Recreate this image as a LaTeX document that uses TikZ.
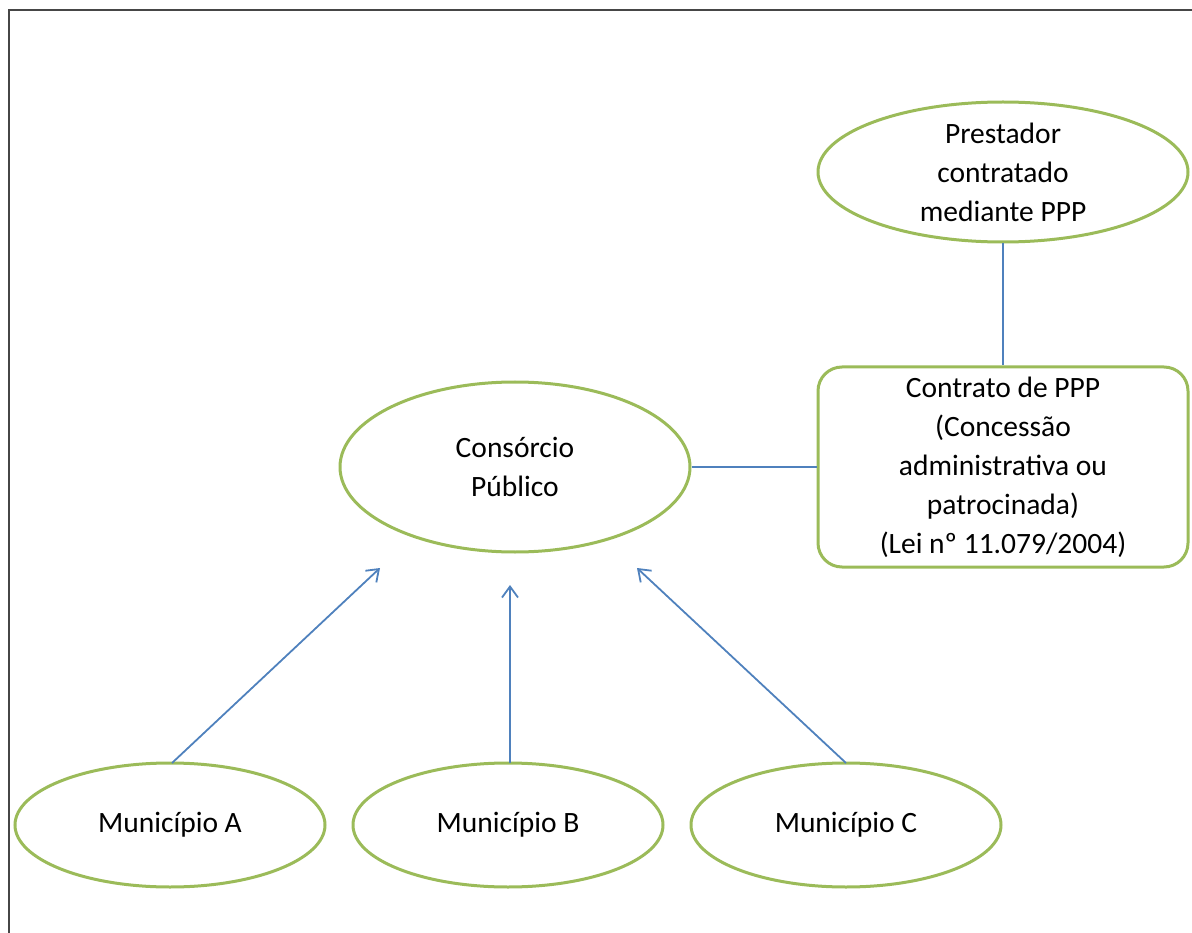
\documentclass[tikz,border=0pt]{standalone}
\usepackage{fontspec}
\setmainfont{Carlito}
\usetikzlibrary{shapes.geometric,arrows.meta}
\definecolor{grn}{RGB}{155,187,89}
\definecolor{blu}{RGB}{79,129,189}
\definecolor{frm}{RGB}{70,70,70}
\begin{document}
\begin{tikzpicture}[x=1pt,y=-1pt,
  txt/.style={align=center,font=\fontsize{29.5}{39}\selectfont,text=black,inner sep=0pt},
  ell/.style={txt,ellipse,draw=grn,line width=3pt},
  box/.style={txt,draw=grn,line width=3pt,rounded corners=24pt},
  link/.style={draw=blu,line width=1.8pt},
  arr/.style={link,-{Straight Barb[length=11pt,width=16pt,line width=1.8pt]}}]
\useasboundingbox (0,0) rectangle (1192,933);
\draw[frm,line width=2pt] (9,933) -- (9,10) -- (1192,10);
\node[ell,minimum width=370pt,minimum height=140pt] (prest) at (1003,172) {Prestador\\contratado\\mediante PPP};
\node[box,minimum width=370pt,minimum height=200pt] (contr) at (1003,467) {Contrato de PPP\\(Concessão\\administrativa ou\\patrocinada)\\(Lei nº 11.079/2004)};
\node[ell,minimum width=350pt,minimum height=170pt] (cons) at (515,467) {Consórcio\\Público};
\node[ell,minimum width=310pt,minimum height=124pt] (ma) at (170,825) {Município A};
\node[ell,minimum width=310pt,minimum height=124pt] (mb) at (508,825) {Município B};
\node[ell,minimum width=310pt,minimum height=124pt] (mc) at (846,825) {Município C};
\coordinate (ea) at (380,568);
\coordinate (eb) at (510,585);
\coordinate (ec) at (637,568);
\coordinate (sa) at (172,763);
\coordinate (sb) at (510,763);
\coordinate (sc) at (846,763);
\draw[link] (prest.south) -- (contr.north);
\draw[link] (cons.east) -- (contr.west);
\draw[arr] (sa) -- (ea);
\draw[arr] (sb) -- (eb);
\draw[arr] (sc) -- (ec);
\end{tikzpicture}
\end{document}
